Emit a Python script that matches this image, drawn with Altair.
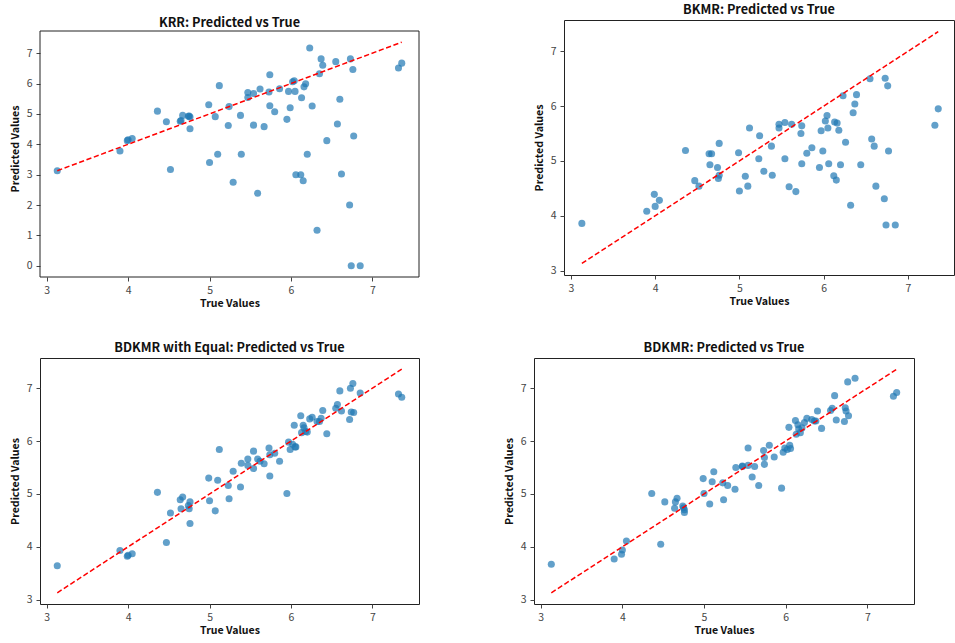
import altair as alt
import pandas as pd

true_vals = [3.13, 3.90, 3.99, 4.00, 4.05, 4.36, 4.47, 4.52, 4.64, 4.65,
             4.67, 4.74, 4.75, 4.76, 4.76, 4.99, 5.00, 5.07, 5.10, 5.12,
             5.23, 5.24, 5.29, 5.38, 5.39, 5.47, 5.47, 5.54, 5.54, 5.59,
             5.62, 5.67, 5.73, 5.74, 5.74, 5.80, 5.86, 5.95, 5.97, 5.99,
             6.02, 6.04, 6.05, 6.06, 6.12, 6.13, 6.15, 6.16, 6.18, 6.20,
             6.23, 6.26, 6.32, 6.35, 6.37, 6.39, 6.44, 6.55, 6.57, 6.60,
             6.62, 6.72, 6.73, 6.74, 6.76, 6.77, 6.85, 7.32, 7.36]

krr_pred = [3.13, 3.78, 4.12, 4.15, 4.19, 5.09, 4.74, 3.17, 4.76, 4.78,
            4.95, 4.92, 4.93, 4.90, 4.51, 5.30, 3.40, 4.91, 3.67, 5.93,
            4.62, 5.24, 2.75, 4.95, 3.67, 5.70, 5.54, 5.67, 4.63, 2.39,
            5.82, 4.58, 5.72, 6.29, 5.27, 5.07, 5.83, 4.82, 5.74, 5.20,
            6.06, 6.09, 5.74, 3.00, 3.00, 5.53, 2.80, 5.89, 5.99, 3.67,
            7.17, 5.26, 1.17, 6.32, 6.81, 6.60, 4.12, 6.72, 4.67, 5.48,
            3.02, 2.00, 6.81, 0.00, 6.46, 4.27, 0.00, 6.51, 6.67]

bkmr_pred = [3.86, 4.08, 4.39, 4.17, 4.28, 5.19, 4.64, 4.54, 5.13, 4.93,
             5.13, 4.88, 4.68, 5.32, 4.74, 5.15, 4.45, 4.72, 4.54, 5.60,
             5.04, 5.46, 4.81, 5.27, 4.74, 5.67, 5.60, 5.70, 5.04, 4.53,
             5.67, 4.44, 5.50, 5.64, 4.95, 5.14, 5.24, 4.88, 5.55, 5.18,
             5.73, 5.83, 5.60, 4.95, 4.73, 5.71, 4.65, 5.69, 5.56, 4.93,
             6.19, 5.34, 4.19, 5.88, 6.04, 6.21, 4.93, 6.50, 5.40, 5.27,
             4.54, 4.31, 6.51, 3.83, 6.37, 5.18, 3.83, 5.65, 5.95]

bdkmr_eq_pred = [3.64, 3.93, 3.82, 3.84, 3.87, 5.03, 4.08, 4.64, 4.89, 4.72,
                 4.94, 4.78, 4.72, 4.85, 4.44, 5.30, 4.87, 4.68, 5.26, 5.84,
                 5.16, 4.91, 5.43, 5.13, 5.58, 5.66, 5.54, 5.81, 5.48, 5.66,
                 5.62, 5.57, 5.87, 5.34, 5.74, 5.77, 5.62, 5.01, 5.98, 5.84,
                 5.94, 6.30, 5.89, 5.89, 6.48, 6.16, 6.30, 6.25, 6.18, 6.17,
                 6.42, 6.45, 6.37, 6.37, 6.43, 6.58, 6.14, 6.62, 6.69, 6.95,
                 6.57, 6.41, 7.00, 6.55, 7.09, 6.54, 6.91, 6.89, 6.83]

bdkmr_pred = [3.67, 3.77, 3.86, 3.94, 4.11, 5.01, 4.05, 4.85, 4.73, 4.85,
              4.92, 4.77, 4.74, 4.70, 4.65, 5.29, 5.01, 4.81, 5.23, 5.42,
              5.21, 4.89, 5.16, 5.09, 5.50, 5.53, 5.52, 5.87, 5.54, 5.32,
              5.52, 5.16, 5.82, 5.69, 5.56, 5.92, 5.70, 5.11, 5.79, 5.87,
              5.84, 6.26, 5.92, 5.86, 6.39, 6.13, 6.31, 6.23, 6.16, 6.25,
              6.35, 6.43, 6.41, 6.38, 6.38, 6.57, 6.24, 6.58, 6.62, 6.86,
              6.40, 6.37, 6.63, 6.57, 7.12, 6.48, 7.19, 6.85, 6.92]

titles = ["KRR: Predicted vs True", "BKMR: Predicted vs True",
          "BDKMR with Equal: Predicted vs True", "BDKMR: Predicted vs True"]
x_ticks = [3, 4, 5, 6, 7]
y_ticks_krr = [0, 1, 2, 3, 4, 5, 6, 7]
y_ticks = [3, 4, 5, 6, 7]

FONT = "Noto Sans CJK KR"

line_df = pd.DataFrame({"x": [min(true_vals), max(true_vals)],
                        "y": [min(true_vals), max(true_vals)]})


def panel(title, preds, xdom, ydom, yvals, w, h, frame_top=None):
    df = pd.DataFrame({"t": true_vals, "p": preds})
    xs = alt.Scale(domain=xdom, nice=False, zero=False)
    ys = alt.Scale(domain=ydom, nice=False, zero=False)
    xax = alt.Axis(values=x_ticks, format="d", title="True Values")
    yax = alt.Axis(values=yvals, format="d", title="Predicted Values")
    pts = alt.Chart(df).mark_circle(size=50, opacity=0.7, color="#1f77b4").encode(
        x=alt.X("t:Q", scale=xs, axis=xax),
        y=alt.Y("p:Q", scale=ys, axis=yax),
    )
    ln = alt.Chart(line_df).mark_line(color="red", strokeWidth=1.5,
                                      strokeDash=[5.2, 2.6]).encode(
        x=alt.X("x:Q", scale=xs, axis=xax),
        y=alt.Y("y:Q", scale=ys, axis=yax),
    )
    layers = [pts, ln]
    props = dict(width=w, height=h, title=title)
    if frame_top is not None:
        # panel drawn taller than its visible box: draw the box as a frame
        frame = alt.Chart(pd.DataFrame({"k": [0]})).mark_rect(
            fillOpacity=0, stroke="#222", strokeWidth=1
        ).encode(x=alt.value(0), x2=alt.value(w),
                 y=alt.value(frame_top), y2=alt.value(h))
        layers.append(frame)
        props["view"] = alt.ViewBackground(strokeOpacity=0)
    return alt.layer(*layers).properties(**props)


p1 = panel(alt.TitleParams(text=titles[0], dy=13),
           krr_pred, [2.918, 7.572], [-0.368, 8.090], y_ticks_krr, 379, 257,
           frame_top=11)
p2 = panel(titles[1], bkmr_pred, [2.918, 7.547], [2.918, 7.572], y_ticks, 390, 255)
p3 = panel(titles[2], bdkmr_eq_pred, [2.918, 7.572], [2.918, 7.572], y_ticks, 379, 246)
p4 = panel(titles[3], bdkmr_pred, [2.918, 7.572], [2.918, 7.572], y_ticks, 380, 246)

row1 = alt.hconcat(p1, p2, spacing=113)
row2 = alt.hconcat(p3, p4, spacing=83)

chart = alt.vconcat(row1, row2, spacing=31).properties(
    padding={"left": 9, "top": 3, "right": 0, "bottom": 0}
).configure_view(
    stroke="#222", strokeWidth=1
).configure_axis(
    grid=False, domain=False, labelOverlap=False, labelFlush=False,
    labelFont=FONT, labelFontSize=10.5, labelColor="#444",
    tickColor="#444", tickSize=4, labelPadding=4,
    titleFont=FONT, titleFontSize=10.6, titleFontWeight="bold", titleColor="#111",
).configure_axisX(
    titlePadding=3,
).configure_axisY(
    titlePadding=6,
).configure_title(
    font=FONT, fontSize=12.7, fontWeight="bold", color="#111", offset=3, anchor="middle"
)

chart.save("out.html", embed_options={"renderer": "svg", "actions": False})
